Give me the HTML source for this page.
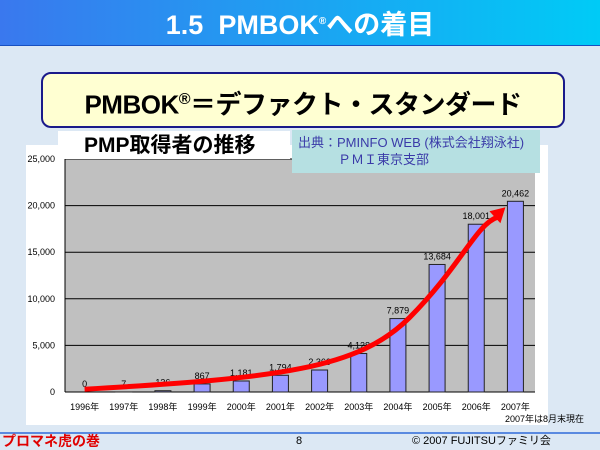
<!DOCTYPE html>
<html><head><meta charset="utf-8"><style>
body{margin:0;width:600px;height:450px;overflow:hidden;background:#dce8f4;font-family:"Liberation Sans","Noto Sans CJK JP",sans-serif;position:relative}
div{position:absolute;box-sizing:border-box}
</style></head><body>
<div style="left:0;top:0;width:600px;height:46px;background:linear-gradient(90deg,#3a78ee,#00cbf6);border-bottom:1px solid #1850c0"></div>
<div style="left:0;top:5px;width:600px;text-align:center;color:#fff;font-size:27px;font-weight:bold;line-height:34px">1.5&nbsp; PMBOK<sup style="font-size:10px">®</sup>への着目</div>
<div style="left:41px;top:72px;width:524px;height:56px;background:#ffffd2;border:2px solid #1a1a8a;border-radius:10px;text-align:center;font-size:26px;font-weight:bold;line-height:52px;color:#000;letter-spacing:-0.5px">PMBOK<sup style="font-size:16px">®</sup>＝デファクト・スタンダード</div>
<div style="left:26px;top:145px;width:522px;height:280px;background:#fff"></div>
<svg style="position:absolute;left:0;top:0" width="600" height="450" id="chart"></svg>
<div style="left:58px;top:131px;width:232px;height:28px;background:#fff;font-size:21px;font-weight:bold;line-height:30px;padding-left:26px">PMP取得者の推移</div>
<div style="left:292px;top:130px;width:248px;height:43px;background:#b6e0e2;color:#3a3aa8;font-size:13px;line-height:17px;padding:4px 0 0 6px">出典：PMINFO WEB (株式会社翔泳社)<br><span style="padding-left:40px">ＰＭＩ東京支部</span></div>
<div style="left:505px;top:412px;font-size:9px;color:#000">2007年は8月末現在</div>
<div style="left:0;top:432px;width:600px;height:2px;background:#5a8ae0"></div>
<div style="left:2px;top:433px;font-size:14px;font-weight:bold;color:#e00000;line-height:17px">プロマネ虎の巻</div>
<div style="left:296px;top:434px;font-size:11px;line-height:14px">8</div>
<div style="left:412px;top:434px;font-size:11px;line-height:14px">© 2007 FUJITSUファミリ会</div>
<script>
const categories=["1996年","1997年","1998年","1999年","2000年","2001年","2002年","2003年","2004年","2005年","2006年","2007年"];
const values=[0,7,136,867,1181,1794,2360,4128,7879,13684,18001,20462];
const valueLabels=["0","7","136","867","1,181","1,794","2,360","4,128","7,879","13,684","18,001","20,462"];
const yTicks=[0,5000,10000,15000,20000,25000];
const yTickLabels=["0","5,000","10,000","15,000","20,000","25,000"];
const svg=document.getElementById('chart');const NS="http://www.w3.org/2000/svg";
const L=65,R=535,T=159,B=392,yMax=25000;
const bw=(R-L)/categories.length;
const x=i=>L+bw*(i+0.5);
const y=v=>B-(v/yMax)*(B-T);
function mk(t,a,txt){const e=document.createElementNS(NS,t);for(const k in a)e.setAttribute(k,a[k]);if(txt!=null)e.textContent=txt;svg.appendChild(e);return e;}
let e=mk('rect',{x:L,y:T,width:R-L,height:B-T,fill:'#c0c0c0'});

yTicks.forEach((t,i)=>{
 if(t>0){e=mk('line',{x1:L,x2:R,y1:y(t),y2:y(t),stroke:'#000','stroke-width':1});
 }
 e=mk('text',{x:L-10,y:y(t)+3,'text-anchor':'end','font-size':9},yTickLabels[i]);
 
});
e=mk('line',{x1:L,x2:L,y1:T,y2:B,stroke:'#000'});
e=mk('line',{x1:L,x2:R,y1:B,y2:B,stroke:'#000'});
categories.forEach((c,i)=>{
 const h=B-y(values[i]);
 e=mk('rect',{x:x(i)-8,y:y(values[i]),width:16,height:h,fill:'#9999ff',stroke:'#222','stroke-width':1});
 
 e=mk('text',{x:x(i),y:y(values[i])-5,'text-anchor':'middle','font-size':9},valueLabels[i]);
 
 e=mk('text',{x:x(i),y:410,'text-anchor':'middle','font-size':9},c);
 
});
const n=values.length-1;
const sx=x(0),sy=y(300),ex=x(n)-10,ey=y(values[n])+6;
e=mk('path',{d:`M${sx},${sy} C${x(5)},${y(1500)} ${x(7)},${y(2500)} ${x(8.3)},${y(8000)} S${x(10)},${y(18000)} ${ex-8},${ey+10}`,fill:'none',stroke:'#ff0000','stroke-width':5});

e=mk('polygon',{points:`${ex},${ey} ${ex-16},${ey+4} ${ex-5},${ey+16}`,fill:'#ff0000'});

</script>
</body></html>
